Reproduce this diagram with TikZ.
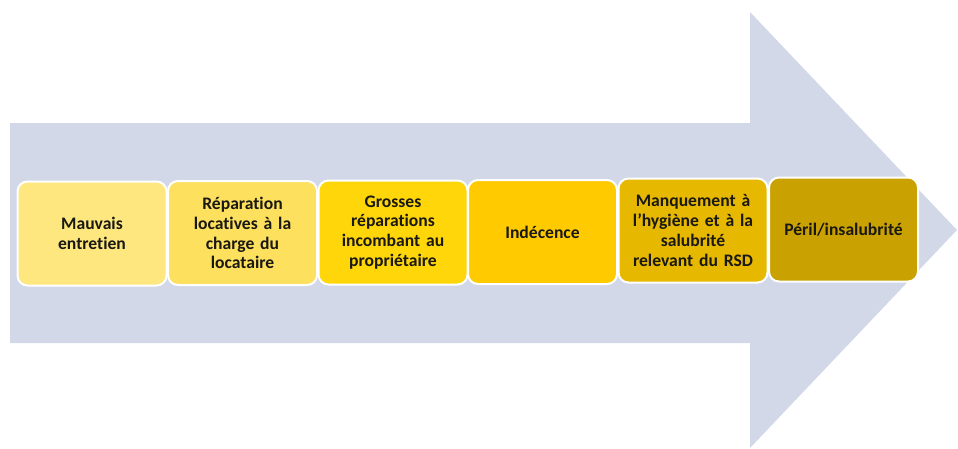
\documentclass[tikz,border=0pt]{standalone}
\usepackage{fontspec}
\setmainfont{Carlito}[Ligatures=NoCommon]
\definecolor{arrowfill}{HTML}{D2D8E8}
\definecolor{cA}{HTML}{FDE77E}
\definecolor{cB}{HTML}{FDE05E}
\definecolor{cC}{HTML}{FFD60A}
\definecolor{cD}{HTML}{FFCB00}
\definecolor{cE}{HTML}{E6B800}
\definecolor{cF}{HTML}{C9A100}
\definecolor{txt}{HTML}{1A1812}
\begin{document}
\begin{tikzpicture}[x=1pt,y=-1pt,
  stepbox/.style={draw=white, line width=2pt, rounded corners=10pt,
    minimum width=149pt, minimum height=104pt, inner sep=0pt,
    text width=144pt, align=center, text=txt,
    font=\bfseries\fontsize{17.6}{19.8}\selectfont}]
\useasboundingbox (0,0) rectangle (958,448);
\fill[arrowfill] (10,123) -- (750,123) -- (750,12) -- (957,230) -- (750,448) -- (750,343) -- (10,343) -- cycle;
\node[stepbox, fill=cA] (b1) at (92,233.5) {Mauvais\\entretien};
\node[stepbox, fill=cB] (b2) at (242.5,233) {Réparation\\locatives à la\\charge du\\locataire};
\node[stepbox, fill=cC] (b3) at (393,232.5) {Grosses\\réparations\\incombant au\\propriétaire};
\node[stepbox, fill=cD] (b4) at (542.5,232) {Indécence};
\node[stepbox, fill=cE] (b5) at (693,230.5) {Manquement à\\l’hygiène et à la\\salubrité\\relevant du RSD};
\node[stepbox, fill=cF] (b6) at (843.5,229.5) {Péril/insalubrité};
\end{tikzpicture}
\end{document}
